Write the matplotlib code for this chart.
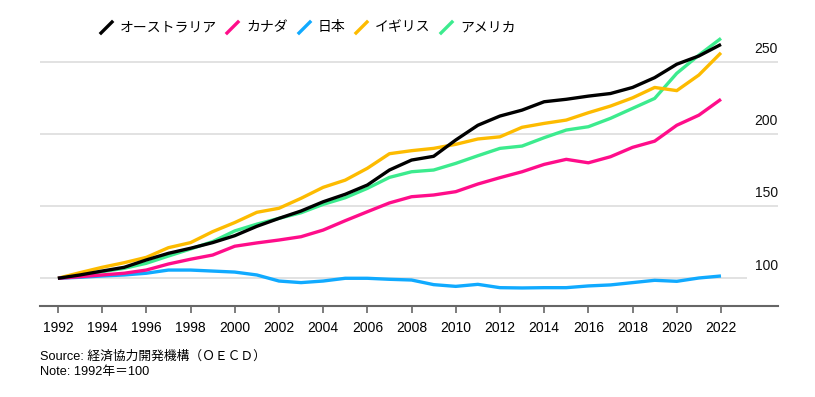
import matplotlib
matplotlib.use("Agg")
import matplotlib.pyplot as plt
from matplotlib.lines import Line2D
import numpy as np

years = np.arange(1992, 2023)

names = ["オーストラリア", "カナダ", "日本", "イギリス", "アメリカ"]
colors = ["#000000", "#ff0d8a", "#10aaff", "#fdbb00", "#3ceb8e"]

australia = [100, 102.3, 105, 107.6, 112.7, 117.3, 120.8, 124.7, 129.5, 136,
             141.5, 146.6, 153, 158.2, 164.6, 175, 181.9, 184.5, 195.8, 206,
             212.4, 216.5, 222.3, 224, 226.2, 228, 232.2, 239, 248.3, 254, 262]
canada = [100, 101.1, 102.3, 103.5, 105.7, 109.9, 113.2, 116.1, 122.2, 124.5,
          126.5, 128.8, 133.4, 139.9, 146.1, 152.2, 156.5, 157.7, 160, 165.3,
          169.7, 173.8, 178.9, 182.4, 180, 184.2, 190.7, 195, 206, 213, 224]
japan = [100, 100.7, 101.6, 102.3, 103.5, 105.7, 105.7, 105, 104.3, 102.3,
         98.1, 97, 98.1, 100, 100, 99.3, 98.8, 95.6, 94.4, 95.8,
         93.5, 93.3, 93.5, 93.5, 94.7, 95.4, 97, 98.6, 97.9, 100.2, 101.6]
uk = [100, 103.9, 107.6, 110.8, 114.5, 121.2, 124.7, 132.3, 138.6, 145.7,
      148.5, 155.4, 163, 168, 176.2, 186.3, 188.4, 190, 192.8, 196.5,
      198, 204.6, 207.3, 209.6, 214.7, 219.3, 225, 232.2, 230, 240.8, 256.2]
usa = [100, 102.3, 104.6, 106.9, 110.4, 115.4, 120.3, 125.4, 132.8, 137.5,
       141.5, 145.4, 151.2, 155.8, 162.3, 169.9, 173.8, 175, 179.6, 184.9,
       190, 191.6, 197.4, 202.7, 205, 210.8, 217.7, 224.6, 242, 254.6, 266.2]
series = [australia, canada, japan, uk, usa]

yticks = [100, 150, 200, 250]
xticks = np.arange(1992, 2023, 2)

W, H = 815, 397
fig = plt.figure(figsize=(W / 100, H / 100), dpi=100)
ax = fig.add_axes([40 / W, 1 - 306 / H, 738 / W, 276 / H])
ax.set_xlim(1991.19, 2024.58)
ax.set_ylim(80.8, 272)

# gridlines
for v in yticks:
    xend = 2023.18 if v == 100 else 2024.58
    ax.hlines(v, 1991.19, xend, color="#dddddd", lw=1.2, zorder=1)
    ax.text(2024.58, v + 4, str(v), ha="right", va="bottom", fontsize=10,
            family="Liberation Sans", color="#111111")

# lines, first series on top
for i in range(len(series) - 1, -1, -1):
    ax.plot(years, series[i], color=colors[i], lw=2.4, zorder=3 + (len(series) - i),
            solid_capstyle="butt")

for s in ["top", "right", "left"]:
    ax.spines[s].set_visible(False)
ax.spines["bottom"].set_color("#666666")
ax.spines["bottom"].set_linewidth(1.5)
ax.set_yticks([])
ax.set_xticks(xticks)
ax.set_xticklabels([str(x) for x in xticks], fontsize=10, family="Liberation Sans")
ax.tick_params(axis="x", length=5, width=1.2, color="#666666", pad=6)

# legend at top
leg_x = [100, 226, 298, 355, 440]
for i in range(len(names)):
    x0 = leg_x[i]
    fig.add_artist(Line2D([(x0 + 1) / W, (x0 + 12) / W],
                          [1 - 33 / H, 1 - 22 / H], color=colors[i], lw=2.4,
                          transform=fig.transFigure))
    fig.text((x0 + 20) / W, 1 - 27.5 / H, names[i], fontsize=10, va="center",
             family=["Noto Sans CJK JP", "DejaVu Sans"])

fam = ["Liberation Sans", "Noto Sans CJK JP"]
fig.text(40 / W, 1 - 357 / H, "Source: 経済協力開発機構（ＯＥＣＤ）", fontsize=9.2,
         va="center", family=fam)
fig.text(40 / W, 1 - 372 / H, "Note: 1992年＝100", fontsize=9.2, va="center",
         family=fam)

fig.savefig("out.png", dpi=100)
